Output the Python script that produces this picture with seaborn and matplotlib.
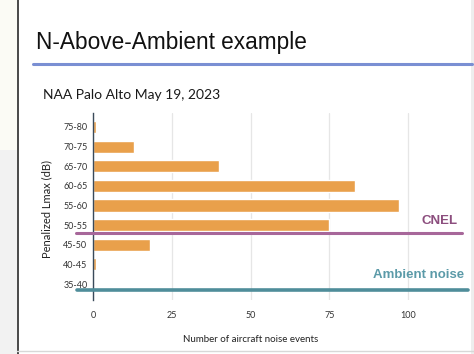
import matplotlib
matplotlib.use("Agg")
import matplotlib.pyplot as plt
import seaborn as sns
import pandas as pd
from matplotlib.patches import Rectangle
from matplotlib.lines import Line2D

# ---- data ----
bins = ["75-80", "70-75", "65-70", "60-65", "55-60", "50-55", "45-50", "40-45", "35-40"]
counts = [1, 13, 40, 83, 97, 75, 18, 1, 0]
x_ticks = [0, 25, 50, 75, 100]
threshold_labels = ["CNEL", "Ambient noise"]
threshold_pos = [5.41, 8.3]   # position on the category axis

title = "N-Above-Ambient example"
subtitle = "NAA Palo Alto May 19, 2023"
xlabel = "Number of aircraft noise events"
ylabel = "Penalized Lmax (dB)"

sns.set_style("white")
narrow = ["Liberation Sans Narrow", "Lato", "DejaVu Sans"]
plt.rcParams["font.family"] = ["Lato", "DejaVu Sans"]

W, H = 474, 354
fig = plt.figure(figsize=(W / 100, H / 100), dpi=100)
fig.patch.set_facecolor("white")

def fx(px):
    return px / W

def fy(py):
    return 1 - py / H

# slide background pieces (left gray margin, border)
fig.patches.append(Rectangle((0, 0), fx(17), 1, transform=fig.transFigure,
                             facecolor="#f2f2f2", edgecolor="none", zorder=0))
fig.patches.append(Rectangle((0, fy(150)), fx(17), 150 / H, transform=fig.transFigure,
                             facecolor="#fbfbf5", edgecolor="none", zorder=0))
fig.lines.append(Line2D([fx(17.5), fx(17.5)], [0, 1], transform=fig.transFigure,
                        color="#3a3a3a", lw=1.3))
fig.lines.append(Line2D([fx(17), 1], [fy(351), fy(351)], transform=fig.transFigure,
                        color="#d8d8d8", lw=1.0))
fig.patches.append(Rectangle((fx(471), 0), fx(3), 1, transform=fig.transFigure,
                             facecolor="#eeeeee", edgecolor="none", zorder=0))

# title and rule
fig.text(fx(36), fy(42), title, fontsize=16.3, family=["Liberation Sans", "DejaVu Sans"],
         color="#111111", va="center", ha="left")
fig.lines.append(Line2D([fx(33), fx(472)], [fy(64), fy(64)], transform=fig.transFigure,
                        color="#7a8fd3", lw=2.2))
fig.text(fx(43), fy(95), subtitle, fontsize=10, color="#1a1a1a", va="center", ha="left")

# axes
ax_left, ax_right, ax_top, ax_bot = 93, 465, 113, 300
ax = fig.add_axes([fx(ax_left), fy(ax_bot), fx(ax_right - ax_left), (ax_bot - ax_top) / H])
ax.set_facecolor("none")

df = pd.DataFrame({"bin": bins, "count": counts})
sns.barplot(data=df, x="count", y="bin", orient="h", color="#e9a04b",
            saturation=1, width=0.62, ax=ax, zorder=3)

ax.set_xlim(0, 118)
ax.set_ylim(8.815, -0.713)
ax.set_xticks(x_ticks)
ax.set_xticklabels([str(t) for t in x_ticks], family=narrow, fontsize=6.5, color="#333333")
ax.set_yticks(range(len(bins)))
ax.set_yticklabels(bins, family=narrow, fontsize=6.5, color="#333333")
ax.tick_params(axis="both", length=0, pad=4)
ax.tick_params(axis="x", pad=8)
ax.grid(axis="x", color="#e6e6e6", lw=0.9, zorder=0)
ax.grid(axis="y", visible=False)
for s in ["top", "right", "bottom"]:
    ax.spines[s].set_visible(False)
ax.spines["left"].set_color("#3a4a5a")
ax.spines["left"].set_linewidth(1.0)
ax.spines["left"].set_zorder(4)
ax.set_xlabel("")
ax.set_ylabel("")

# threshold lines
ax.plot([-5.3, 117], [threshold_pos[0]] * 2, color="#a7679a", lw=2.2, clip_on=False, zorder=5)
ax.plot([-5.0, 118.8], [threshold_pos[1]] * 2, color="#4f8d9a", lw=2.6, clip_on=False, zorder=5)
ax.text(115.6, threshold_pos[0] - 0.6, threshold_labels[0], ha="right", va="center",
        fontsize=9.5, fontweight="bold", color="#8c4e7e",
        family=["Liberation Sans", "DejaVu Sans"])
ax.text(117.6, threshold_pos[1] - 0.77, threshold_labels[1], ha="right", va="center",
        fontsize=9.5, fontweight="bold", color="#5b9aa8",
        family=["Liberation Sans Narrow", "Liberation Sans", "DejaVu Sans"])

# axis labels
fig.text(fx(251), fy(340), xlabel, fontsize=7, family=narrow, color="#222222",
         ha="center", va="center")
fig.text(fx(47), fy(209), ylabel, fontsize=8, family=narrow, color="#222222",
         ha="center", va="center", rotation=90)

fig.savefig("out.png", dpi=100)
